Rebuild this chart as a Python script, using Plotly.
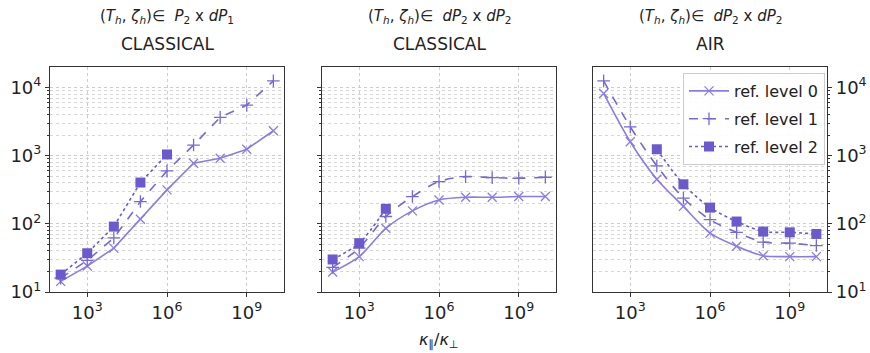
import plotly.graph_objects as go

# ---- data ----
x_vals = [1e2, 1e3, 1e4, 1e5, 1e6, 1e7, 1e8, 1e9, 1e10]

p1_lvl0 = [14.3, 24, 44, 117, 315, 773, 914, 1240, 2320]
p1_lvl1 = [16, 29, 62, 212, 597, 1430, 3640, 5510, 12500]
p1_lvl2_x = [1e2, 1e3, 1e4, 1e5, 1e6]
p1_lvl2 = [18, 37, 91, 403, 1040]

p2_lvl0 = [19.6, 33, 86, 155, 224, 245, 245, 251, 251]
p2_lvl1 = [23, 44, 128, 251, 417, 493, 476, 466, 482]
p2_lvl2_x = [1e2, 1e3, 1e4]
p2_lvl2 = [30, 52, 166]

p3_lvl0 = [8170, 1600, 451, 180, 73, 47, 34, 33, 33]
p3_lvl1 = [12500, 2650, 706, 238, 115, 75, 54, 52, 48]
p3_lvl2_x = [1e4, 1e5, 1e6, 1e7, 1e8, 1e9, 1e10]
p3_lvl2 = [1240, 380, 173, 108, 77, 75, 71]

x_tickvals = [1e3, 1e6, 1e9]
x_ticktext = ["10<sup>3</sup>", "10<sup>6</sup>", "10<sup>9</sup>"]
y_tickvals = [1e1, 1e2, 1e3, 1e4]
y_ticktext = ["10<sup>1</sup>", "10<sup>2</sup>", "10<sup>3</sup>", "10<sup>4</sup>"]

series_names = ["ref. level 0", "ref. level 1", "ref. level 2"]
top_titles = ["(<i>T<sub>h</sub></i>, <i>ζ<sub>h</sub></i>)∈  <i>P</i><sub>2</sub> x <i>dP</i><sub>1</sub>",
              "(<i>T<sub>h</sub></i>, <i>ζ<sub>h</sub></i>)∈  <i>dP</i><sub>2</sub> x <i>dP</i><sub>2</sub>",
              "(<i>T<sub>h</sub></i>, <i>ζ<sub>h</sub></i>)∈  <i>dP</i><sub>2</sub> x <i>dP</i><sub>2</sub>"]
sub_titles = ["CLASSICAL", "CLASSICAL", "AIR"]
x_title = "<i>κ</i><sub>∥</sub>/<i>κ</i><sub>⊥</sub>"

# ---- styles ----
c0 = "#8a7ce6"
c1 = "#7668d8"
c2 = "#6a5acd"
FONT = "DejaVu Sans"
W, H = 870, 353

panels = [
    (p1_lvl0, p1_lvl1, p1_lvl2_x, p1_lvl2, "linear"),
    (p2_lvl0, p2_lvl1, p2_lvl2_x, p2_lvl2, "spline"),
    (p3_lvl0, p3_lvl1, p3_lvl2_x, p3_lvl2, "spline"),
]
xpix = [(50, 284), (322, 556), (593, 827)]
ytop, ybot = 67, 292

fig = go.Figure()
for i, (l0, l1, l2x, l2, shape) in enumerate(panels):
    xa = "x" if i == 0 else f"x{i+1}"
    ya = "y" if i == 0 else f"y{i+1}"
    show = (i == 2)
    fig.add_trace(go.Scatter(x=x_vals, y=l0, xaxis=xa, yaxis=ya, mode="lines+markers",
                             name=series_names[0], showlegend=show, legendgroup="g0",
                             line=dict(color=c0, width=1.6, shape=shape, smoothing=0.8),
                             marker=dict(symbol="x-thin", size=9, line=dict(color=c0, width=1.3), color=c0)))
    fig.add_trace(go.Scatter(x=x_vals, y=l1, xaxis=xa, yaxis=ya, mode="lines+markers",
                             name=series_names[1], showlegend=show, legendgroup="g1",
                             line=dict(color=c1, width=1.6, dash="dash", shape=shape, smoothing=0.8),
                             marker=dict(symbol="cross-thin", size=9, line=dict(color=c1, width=1.3), color=c1)))
    fig.add_trace(go.Scatter(x=l2x, y=l2, xaxis=xa, yaxis=ya, mode="lines+markers",
                             name=series_names[2], showlegend=show, legendgroup="g2",
                             line=dict(color=c2, width=1.6, dash="dot", shape=shape, smoothing=0.8),
                             marker=dict(symbol="square", size=10, color=c2)))

    x0, x1 = xpix[i]
    xaxis = dict(type="log", range=[1.6, 10.4], domain=[x0 / W, x1 / W], automargin=False,
                 anchor=ya, tickvals=x_tickvals, ticktext=x_ticktext,
                 showline=True, mirror=True, linecolor="#333333", linewidth=1.2,
                 ticks="outside", ticklen=4, tickcolor="#333333",
                 showgrid=True, gridcolor="#cccccc", griddash="dot", gridwidth=1,
                 tickfont=dict(family=FONT, size=18, color="#222222"), zeroline=False)
    yaxis = dict(type="log", range=[1, 4.3], domain=[1 - ybot / H, 1 - ytop / H], automargin=False,
                 anchor=xa, tickvals=y_tickvals, ticktext=y_ticktext,
                 showline=True, mirror=True, linecolor="#333333", linewidth=1.2,
                 ticks="outside", ticklen=4, tickcolor="#333333",
                 showgrid=True, gridcolor="#cccccc", griddash="dot", gridwidth=1,
                 minor=dict(dtick="D1", showgrid=True, gridcolor="#d6d6d6", griddash="dot",
                            ticks="outside", ticklen=2, tickcolor="#333333"),
                 tickfont=dict(family=FONT, size=18, color="#222222"), zeroline=False,
                 showticklabels=(i != 1))
    if i == 2:
        yaxis["side"] = "right"
    fig.update_layout(**{("xaxis" if i == 0 else f"xaxis{i+1}"): xaxis,
                         ("yaxis" if i == 0 else f"yaxis{i+1}"): yaxis})

    cx = (x0 + x1) / 2 / W
    fig.add_annotation(text=top_titles[i], x=cx, y=1 - 16 / H, xref="paper", yref="paper",
                       showarrow=False, font=dict(family=FONT, size=15, color="#222222"),
                       xanchor="center", yanchor="middle")
    fig.add_annotation(text=sub_titles[i], x=cx, y=1 - 44 / H, xref="paper", yref="paper",
                       showarrow=False, font=dict(family=FONT, size=17, color="#222222"),
                       xanchor="center", yanchor="middle")

fig.add_annotation(text=x_title, x=439 / W, y=1 - 340 / H, xref="paper", yref="paper",
                   showarrow=False, font=dict(family=FONT, size=16, color="#222222"),
                   xanchor="center", yanchor="middle")

fig.update_layout(
    width=W, height=H, margin=dict(l=0, r=0, t=0, b=0),
    paper_bgcolor="white", plot_bgcolor="white",
    font=dict(family=FONT),
    legend=dict(x=683 / W, y=1 - 73 / H, xanchor="left", yanchor="top",
                bgcolor="rgba(255,255,255,0.9)", bordercolor="#cccccc", borderwidth=1,
                font=dict(family=FONT, size=16, color="#222222"), itemwidth=40,
                tracegroupgap=4),
)

fig.write_html("out.html")
